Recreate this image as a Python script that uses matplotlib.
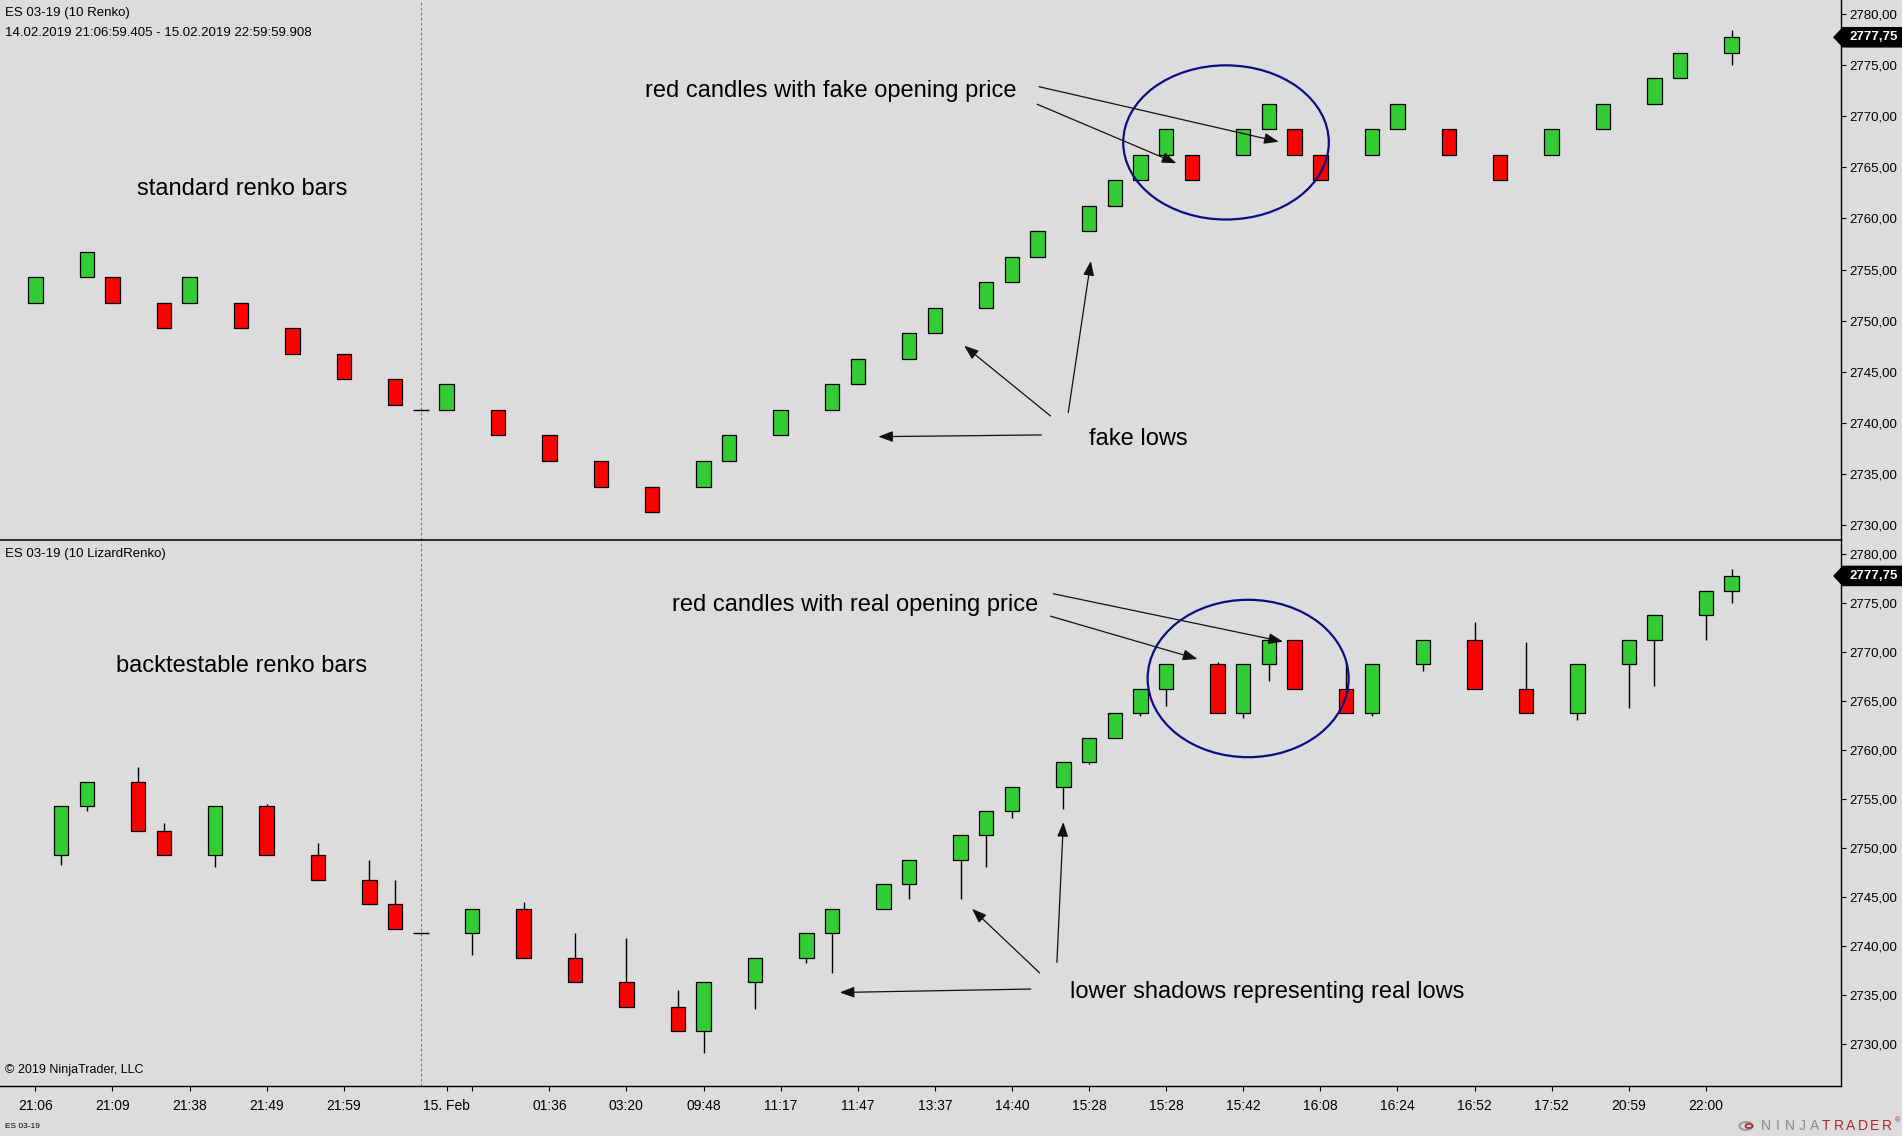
import matplotlib
matplotlib.use('Agg')
import matplotlib.pyplot as plt
from matplotlib.patches import Ellipse, Polygon, Circle
from matplotlib.transforms import blended_transform_factory
import numpy as np

plt.rcParams['font.family'] = ['Liberation Sans', 'DejaVu Sans']

BG = '#dcdcdc'
UP = '#32cd32'
DOWN = '#ff0000'
W, H = 1902, 1136

# standard renko bars (top panel), x = bar slot
top_slot = [0, 2, 3, 5, 6, 8, 10, 12, 14, 15, 16, 18, 20, 22, 24, 26, 27, 29, 31, 32, 34, 35,
            37, 38, 39, 41, 42, 43, 44, 45, 47, 48, 49, 50, 52, 53, 55, 57, 59, 61, 63, 64, 66]
top_open = [2751.75, 2754.25, 2754.25, 2751.75, 2751.75, 2751.75, 2749.25, 2746.75, 2744.25, 2741.25,
            2741.25, 2741.25, 2738.75, 2736.25, 2733.75, 2733.75, 2736.25, 2738.75, 2741.25, 2743.75,
            2746.25, 2748.75, 2751.25, 2753.75, 2756.25, 2758.75, 2761.25, 2763.75, 2766.25, 2766.25,
            2766.25, 2768.75, 2768.75, 2766.25, 2766.25, 2768.75, 2768.75, 2766.25, 2766.25, 2768.75,
            2771.25, 2773.75, 2776.25]
top_close = [2754.25, 2756.75, 2751.75, 2749.25, 2754.25, 2749.25, 2746.75, 2744.25, 2741.75, 2741.25,
             2743.75, 2738.75, 2736.25, 2733.75, 2731.25, 2736.25, 2738.75, 2741.25, 2743.75, 2746.25,
             2748.75, 2751.25, 2753.75, 2756.25, 2758.75, 2761.25, 2763.75, 2766.25, 2768.75, 2763.75,
             2768.75, 2771.25, 2766.25, 2763.75, 2768.75, 2771.25, 2766.25, 2763.75, 2768.75, 2771.25,
             2773.75, 2776.25, 2777.75]
top_high = [max(o, c) for o, c in zip(top_open, top_close)]
top_low = [min(o, c) for o, c in zip(top_open, top_close)]
top_high[-1] = 2778.5
top_low[-1] = 2775.0

# lizard renko bars (bottom panel)
bot_slot = [1, 2, 4, 5, 7, 9, 11, 13, 14, 15, 17, 19, 21, 23, 25, 26, 28, 30, 31, 33, 34, 36,
            37, 38, 40, 41, 42, 43, 44, 46, 47, 48, 49, 51, 52, 54, 56, 58, 60, 62, 63, 65, 66]
bot_open = [2749.25, 2754.25, 2756.75, 2751.75, 2749.25, 2754.25, 2749.25, 2746.75, 2744.25, 2741.25,
            2741.25, 2743.75, 2738.75, 2736.25, 2733.75, 2731.25, 2736.25, 2738.75, 2741.25, 2743.75,
            2746.25, 2748.75, 2751.25, 2753.75, 2756.25, 2758.75, 2761.25, 2763.75, 2766.25, 2768.75,
            2763.75, 2768.75, 2771.25, 2766.25, 2763.75, 2768.75, 2771.25, 2766.25, 2763.75, 2768.75,
            2771.25, 2773.75, 2776.25]
bot_high = [2754.25, 2756.75, 2758.25, 2752.5, 2754.25, 2754.5, 2750.5, 2748.75, 2746.75, 2741.25,
            2743.75, 2744.5, 2741.25, 2740.75, 2735.5, 2736.25, 2738.75, 2741.25, 2743.75, 2746.25,
            2748.75, 2751.25, 2753.75, 2756.25, 2758.75, 2761.25, 2763.75, 2766.25, 2768.75, 2769.0,
            2768.75, 2771.25, 2771.25, 2769.0, 2768.75, 2771.25, 2773.0, 2771.0, 2768.75, 2771.25,
            2773.75, 2776.25, 2778.5]
bot_low = [2748.25, 2753.75, 2751.75, 2749.25, 2748.0, 2749.25, 2746.75, 2744.25, 2741.75, 2741.25,
           2739.0, 2738.75, 2736.25, 2733.75, 2731.25, 2729.0, 2733.5, 2738.25, 2737.25, 2743.75,
           2744.75, 2744.75, 2748.0, 2753.0, 2754.0, 2758.5, 2761.25, 2763.5, 2764.5, 2763.75,
           2763.25, 2767.0, 2766.25, 2763.75, 2763.5, 2768.0, 2766.25, 2763.75, 2763.0, 2764.25,
           2766.5, 2771.25, 2775.0]
bot_close = [2754.25, 2756.75, 2751.75, 2749.25, 2754.25, 2749.25, 2746.75, 2744.25, 2741.75, 2741.25,
             2743.75, 2738.75, 2736.25, 2733.75, 2731.25, 2736.25, 2738.75, 2741.25, 2743.75, 2746.25,
             2748.75, 2751.25, 2753.75, 2756.25, 2758.75, 2761.25, 2763.75, 2766.25, 2768.75, 2763.75,
             2768.75, 2771.25, 2766.25, 2763.75, 2768.75, 2771.25, 2766.25, 2763.75, 2768.75, 2771.25,
             2773.75, 2776.25, 2777.75]

tick_slots = [0, 3, 6, 9, 12, 16, 17, 20, 23, 26, 29, 32, 35, 38, 41, 44, 47, 50, 53, 56, 59, 62, 65]
tick_labels = ['21:06', '21:09', '21:38', '21:49', '21:59', '15. Feb', '', '01:36', '03:20', '09:48',
               '11:17', '11:47', '13:37', '14:40', '15:28', '15:28', '15:42', '16:08', '16:24',
               '16:52', '17:52', '20:59', '22:00']
price_ticks = [2730, 2735, 2740, 2745, 2750, 2755, 2760, 2765, 2770, 2775, 2780]
last_price = 2777.75
session_break = 15

fig = plt.figure(figsize=(W / 100, H / 100), dpi=100, facecolor=BG)
ax_top = fig.add_axes([0, 1 - 540 / H, 1841.3 / W, 540 / H])
ax_bot = fig.add_axes([0, 1 - 1086 / H, 1841.3 / W, 546 / H])


def draw_candles(ax, slot, o, h, l, c):
  slot, o, h, l, c = map(np.array, (slot, o, h, l, c))
  ax.vlines(slot, l, h, color='black', lw=1.0, zorder=2)
  flat = o == c
  body = ~flat
  colors = np.where(c > o, UP, DOWN)
  ax.bar(slot[body], np.abs(c - o)[body], bottom=np.minimum(o, c)[body], width=0.56,
         color=colors[body], edgecolor='black', linewidth=0.9, zorder=3)
  ax.hlines(c[flat], slot[flat] - 0.3, slot[flat] + 0.3, color='black', lw=1.0, zorder=3)


def setup(ax, ylim):
  ax.set_facecolor(BG)
  ax.set_xlim(-1.374, 70.27)
  ax.set_ylim(*ylim)
  ax.spines['left'].set_visible(False)
  ax.spines['top'].set_visible(False)
  ax.spines['right'].set_linewidth(1.0)
  ax.spines['bottom'].set_linewidth(1.0)
  ax.yaxis.tick_right()
  ax.set_yticks(price_ticks)
  ax.set_yticklabels([f'{p:.2f}'.replace('.', ',') for p in price_ticks], fontsize=9.5)
  ax.tick_params(axis='y', direction='out', length=3.6, width=0.8, pad=2)
  ax.axvline(session_break, color='#7a7a7a', lw=0.8, ls=(0, (2.5, 2)), zorder=1)


def price_tag(ax, price, height_px):
  trans = blended_transform_factory(fig.transFigure, ax.transData)
  y0, y1 = ax.get_ylim()
  half = 9.6 * (y1 - y0) / height_px
  pts = [(1834 / W, price), (1843 / W, price + half), (1.0, price + half),
         (1.0, price - half), (1843 / W, price - half)]
  ax.add_patch(Polygon(pts, closed=True, transform=trans, color='black', clip_on=False, zorder=5))
  ax.text(1849 / W, price, f'{price:.2f}'.replace('.', ','), transform=trans, color='white',
          fontsize=9.5, fontweight='bold', va='center', ha='left', zorder=6, clip_on=False)


def arrow(ax, start, tip):
  ax.annotate('', xy=tip, xytext=start,
              arrowprops=dict(arrowstyle='-|>,head_length=0.8,head_width=0.3', color='#111111',
                              lw=0.9, shrinkA=0, shrinkB=0, mutation_scale=11), zorder=6)


setup(ax_top, (2728.51, 2781.4))
setup(ax_bot, (2725.67, 2781.42))
# the divider between the panels
ax_bot.spines['top'].set_visible(True)
ax_bot.spines['top'].set_linewidth(1.1)
ax_top.set_xticks([])
ax_bot.set_xticks(tick_slots)
ax_bot.set_xticklabels(tick_labels, fontsize=10)
ax_bot.tick_params(axis='x', direction='out', length=3.6, width=0.8, pad=5.5)

draw_candles(ax_top, top_slot, top_open, top_high, top_low, top_close)
draw_candles(ax_bot, bot_slot, bot_open, bot_high, bot_low, bot_close)

price_tag(ax_top, last_price, 540)
price_tag(ax_bot, last_price, 546)

# annotations, top panel
ax_top.text(8.04, 2762.89, 'standard renko bars', fontsize=17, ha='center', va='center')
ax_top.text(30.96, 2772.48, 'red candles with fake opening price', fontsize=17, ha='center', va='center')
ax_top.text(42.9, 2738.39, 'fake lows', fontsize=17, ha='center', va='center')
arrow(ax_top, (39.05, 2772.91), (48.38, 2767.52))
arrow(ax_top, (38.98, 2771.19), (44.40, 2765.41))
arrow(ax_top, (39.50, 2740.66), (36.14, 2747.54))
arrow(ax_top, (40.19, 2740.98), (41.07, 2755.84))
arrow(ax_top, (39.15, 2738.80), (32.80, 2738.63))
ax_top.add_patch(Ellipse((46.33, 2767.45), 8.0, 15.1, fill=False, edgecolor='#0c0c84', lw=1.6, zorder=5))

# annotations, bottom panel
ax_bot.text(8.02, 2768.54, 'backtestable renko bars', fontsize=17, ha='center', va='center')
ax_bot.text(31.9, 2774.75, 'red candles with real opening price', fontsize=17, ha='center', va='center')
ax_bot.text(47.95, 2735.27, 'lower shadows representing real lows', fontsize=17, ha='center', va='center')
arrow(ax_bot, (39.61, 2775.93), (48.55, 2771.04))
arrow(ax_bot, (39.50, 2773.64), (45.22, 2769.27))
arrow(ax_bot, (39.08, 2737.21), (36.45, 2743.76))
arrow(ax_bot, (39.75, 2738.29), (40.00, 2752.62))
arrow(ax_bot, (38.73, 2735.57), (31.30, 2735.22))
ax_bot.add_patch(Ellipse((47.19, 2767.28), 7.82, 16.07, fill=False, edgecolor='#0c0c84', lw=1.6, zorder=5))

# header and footer texts
fig.text(5 / W, 1 - 13 / H, 'ES 03-19 (10 Renko)', fontsize=9.5, va='center')
fig.text(5 / W, 1 - 33 / H, '14.02.2019 21:06:59.405 - 15.02.2019 22:59:59.908', fontsize=9.5, va='center')
fig.text(5 / W, 1 - 554 / H, 'ES 03-19 (10 LizardRenko)', fontsize=9.5, va='center')
fig.text(5 / W, 1 - 1070 / H, '\u00a9 2019 NinjaTrader, LLC', fontsize=9, va='center')
fig.text(5 / W, 1 - 1127 / H, 'ES 03-19', fontsize=6, va='center')

# ninjatrader logo
fig.add_artist(Circle((1746 / W, 1 - 1126 / H), 6.5 / W, transform=fig.transFigure,
                      fill=False, edgecolor='#9a9a9a', lw=1.5))
fig.add_artist(Circle((1749 / W, 1 - 1126 / H), 3.5 / W, transform=fig.transFigure,
                      fill=False, edgecolor='#b03030', lw=1.3))
for i, ch in enumerate('NINJATRADER'):
  col = '#8c8c8c' if i < 5 else '#b02828'
  fig.text((1766 + i * 12.1) / W, 1 - 1126 / H, ch, fontsize=10, color=col, ha='center', va='center')
fig.text(1898 / W, 1 - 1121 / H, '\u00ae', fontsize=5.5, color='#b02828', ha='center', va='center')

fig.savefig('out.png', dpi=100, facecolor=BG)
